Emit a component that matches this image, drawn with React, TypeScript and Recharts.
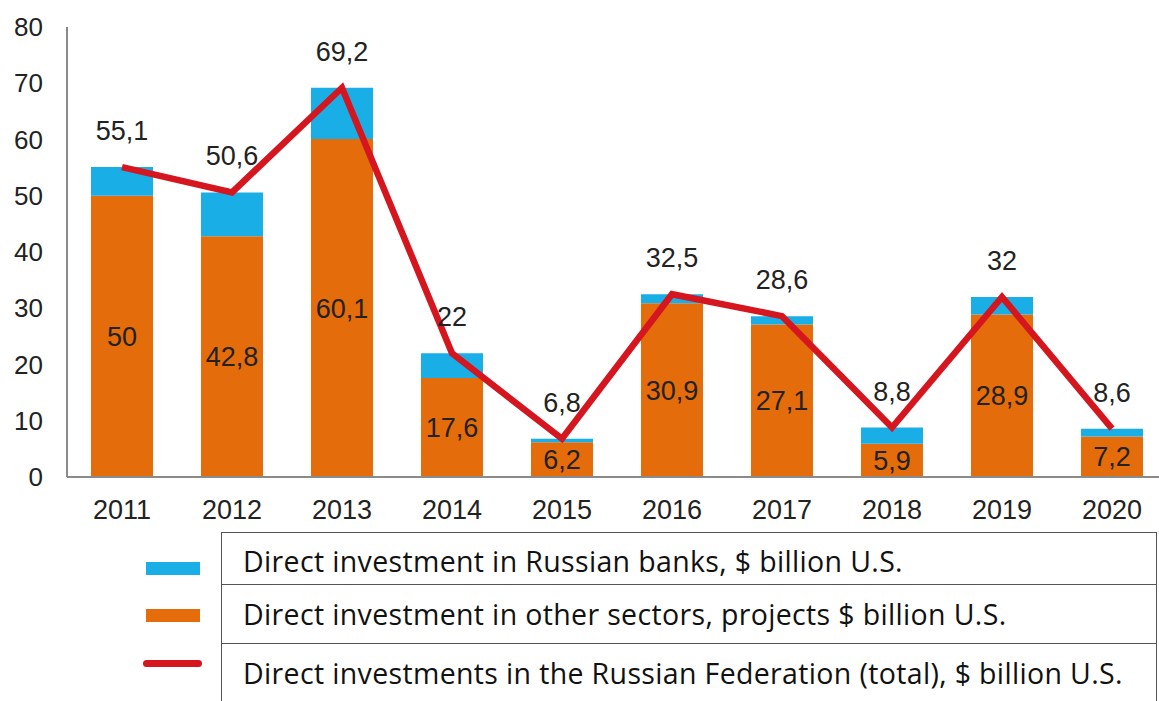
import { ComposedChart, Bar, Line, XAxis, YAxis, LabelList } from 'recharts';

const years = ['2011', '2012', '2013', '2014', '2015', '2016', '2017', '2018', '2019', '2020'];
const otherSectors = [50, 42.8, 60.1, 17.6, 6.2, 30.9, 27.1, 5.9, 28.9, 7.2];
const banks = [5.1, 7.8, 9.1, 4.4, 0.6, 1.6, 1.5, 2.9, 3.1, 1.4];
const totals = [55.1, 50.6, 69.2, 22, 6.8, 32.5, 28.6, 8.8, 32, 8.6];
const yTicks = [0, 10, 20, 30, 40, 50, 60, 70, 80];

const legendItems = [
  'Direct investment in Russian banks, $ billion U.S.',
  'Direct investment in other sectors, projects $ billion U.S.',
  'Direct investments in the Russian Federation (total), $ billion U.S.',
];

const data = years.map((year, i) => ({
  year,
  other: otherSectors[i],
  banks: banks[i],
  total: totals[i],
}));

const ORANGE = '#E46C0A';
const BLUE = '#1AAEE6';
const RED = '#D5161E';
const AXIS_FONT = '"Liberation Sans", Arial, sans-serif';

const fmt = (v: any) => String(v).replace('.', ',');

export default function App() {
  return (
    <div
      style={{
        position: 'absolute',
        left: 0,
        top: 0,
        width: 1159,
        height: 701,
        overflow: 'hidden',
        background: '#fff',
      }}
    >
      <ComposedChart
        width={1170}
        height={540}
        data={data}
        margin={{ top: 27, right: 3, left: 0, bottom: 0 }}
        barCategoryGap="22%"
      >
        <XAxis
          dataKey="year"
          height={63}
          axisLine={{ stroke: '#8a8a8a', strokeWidth: 2 }}
          tickLine={false}
          tickSize={0}
          tickMargin={23}
          tick={{ fill: '#222', fontSize: 27, fontFamily: AXIS_FONT }}
          interval={0}
        />
        <YAxis
          width={67}
          domain={[0, 80]}
          ticks={yTicks}
          axisLine={{ stroke: '#8a8a8a', strokeWidth: 2 }}
          tickLine={false}
          tickSize={0}
          tickMargin={24}
          tick={{ fill: '#222', fontSize: 26, fontFamily: AXIS_FONT }}
        />
        <Bar dataKey="other" stackId="a" fill={ORANGE} barSize={62} isAnimationActive={false}>
          <LabelList
            dataKey="other"
            position="center"
            formatter={fmt}
            style={{ fill: '#222', fontSize: 27, fontFamily: AXIS_FONT }}
          />
        </Bar>
        <Bar dataKey="banks" stackId="a" fill={BLUE} barSize={62} isAnimationActive={false} />
        <Line
          dataKey="total"
          type="linear"
          stroke={RED}
          strokeWidth={6.5}
          dot={false}
          activeDot={false}
          isAnimationActive={false}
        >
          <LabelList
            dataKey="total"
            position="top"
            offset={27}
            formatter={fmt}
            style={{ fill: '#222', fontSize: 27, fontFamily: AXIS_FONT }}
          />
        </Line>
      </ComposedChart>

      {/* legend drawn as a bordered table like the source */}
      <div style={{ position: 'absolute', left: 146, top: 562, width: 54, height: 13, background: BLUE }} />
      <div style={{ position: 'absolute', left: 146, top: 609, width: 54, height: 13, background: ORANGE }} />
      <div
        style={{
          position: 'absolute',
          left: 143,
          top: 660,
          width: 59,
          height: 7,
          borderRadius: 4,
          background: RED,
        }}
      />
      <div
        style={{
          position: 'absolute',
          left: 221,
          top: 532,
          width: 936,
          height: 180,
          borderTop: '1.5px solid #555',
          borderLeft: '1.5px solid #555',
          borderRight: '1.5px solid #555',
          boxSizing: 'border-box',
          fontFamily: '"Open Sans", Lato, sans-serif',
          fontSize: 28.5,
          letterSpacing: 0.35,
          color: '#111',
        }}
      >
        {legendItems.map((label, i) => (
          <div
            key={label}
            style={{
              height: i === 0 ? 51 : 59,
              display: 'flex',
              alignItems: 'center',
              paddingLeft: 21,
              paddingTop: i === 0 ? 4 : 0,
              borderTop: i > 0 ? '1.5px solid #555' : 'none',
              boxSizing: 'border-box',
              whiteSpace: 'nowrap',
            }}
          >
            {label}
          </div>
        ))}
      </div>
    </div>
  );
}
